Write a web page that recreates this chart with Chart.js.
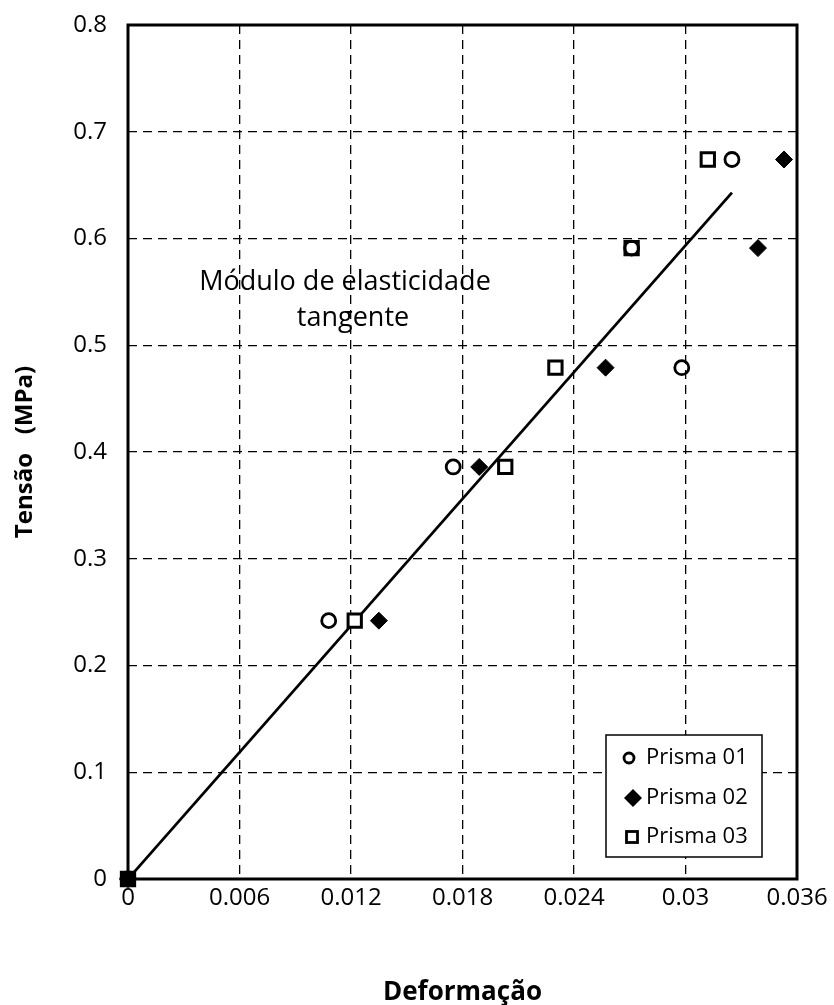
<!DOCTYPE html>
<html>
<head>
<meta charset="utf-8">
<script src="https://cdn.jsdelivr.net/npm/chart.js@4.4.0/dist/chart.umd.min.js"></script>
<style>
  html, body { margin: 0; padding: 0; background: #fff; }
  #wrap { width: 834px; height: 1005px; }
</style>
</head>
<body>
<div id="wrap"><canvas id="grafico" width="834" height="1005"></canvas></div>
<script>
// dados
const tensao = [0, 0.242, 0.386, 0.479, 0.591, 0.674]; // MPa
const deformP1 = [0, 0.0108, 0.0175, 0.0298, 0.0271, 0.0325];
const deformP2 = [0, 0.0135, 0.0189, 0.0257, 0.0339, 0.0353];
const deformP3 = [0, 0.0122, 0.0203, 0.0230, 0.0271, 0.0312];
const retaX = [0, 0.0325]; // reta do módulo tangente
const retaY = [0, 0.643];
const xTicks = [0, 0.006, 0.012, 0.018, 0.024, 0.03, 0.036];
const yTicks = [0, 0.1, 0.2, 0.3, 0.4, 0.5, 0.6, 0.7, 0.8];
const nomes = ['Prisma 01', 'Prisma 02', 'Prisma 03'];

const fonte = '"Open Sans"';

function pontos(xs, ys) {
    return xs.map((x, i) => ({ x: x, y: ys[i] }));
}

// moldura, texto do módulo e legenda desenhados à mão
const extras = {
    id: 'extras',
    beforeDatasetsDraw(chart) {
        const { ctx, chartArea: a } = chart;
        ctx.save();
        ctx.strokeStyle = '#000';
        ctx.lineWidth = 3;
        ctx.strokeRect(a.left, a.top, a.right - a.left, a.bottom - a.top);
        ctx.restore();
    },
    afterDraw(chart) {
        const ctx = chart.ctx;
        ctx.save();
        ctx.fillStyle = '#000';
        ctx.font = '27px ' + fonte;
        ctx.textAlign = 'center';
        ctx.textBaseline = 'alphabetic';
        ctx.fillText('Módulo de elasticidade', 345, 290);
        ctx.fillText('tangente', 353, 326);

        // legenda
        const bx = 606, by = 735, bw = 156, bh = 122;
        ctx.fillStyle = '#fff';
        ctx.fillRect(bx, by, bw, bh);
        ctx.strokeStyle = '#000';
        ctx.lineWidth = 1.5;
        ctx.strokeRect(bx, by, bw, bh);
        ctx.font = '22px ' + fonte;
        ctx.textAlign = 'left';
        ctx.textBaseline = 'middle';
        const linhas = [758, 798, 837];
        linhas.forEach((ly, i) => {
            ctx.lineWidth = 2.8;
            ctx.strokeStyle = '#000';
            ctx.fillStyle = '#000';
            if (i === 0) {
                ctx.beginPath();
                ctx.arc(629, ly, 5, 0, Math.PI * 2);
                ctx.stroke();
            } else if (i === 1) {
                const mx = 633;
                ctx.beginPath();
                ctx.moveTo(mx, ly - 9);
                ctx.lineTo(mx + 9, ly);
                ctx.lineTo(mx, ly + 9);
                ctx.lineTo(mx - 9, ly);
                ctx.closePath();
                ctx.fill();
            } else {
                ctx.strokeRect(632 - 5.5, ly - 5.5, 11, 11);
            }
            ctx.fillStyle = '#000';
            ctx.fillText(chart.data.datasets[i].label, 646, ly);
        });
        ctx.restore();
    }
};

const ctxGrafico = document.getElementById('grafico').getContext('2d');

new Chart(ctxGrafico, {
    type: 'scatter',
    data: {
        datasets: [
            {
                label: nomes[0],
                data: pontos(deformP1, tensao),
                pointStyle: 'circle',
                pointRadius: 7,
                pointBorderWidth: 2.8,
                borderColor: '#000',
                backgroundColor: 'rgba(255,255,255,0)',
                clip: false
            },
            {
                label: nomes[1],
                data: pontos(deformP2, tensao),
                pointStyle: 'rectRot',
                pointRadius: 8.5,
                pointBorderWidth: 1,
                borderColor: '#000',
                backgroundColor: '#000',
                clip: false
            },
            {
                label: nomes[2],
                data: pontos(deformP3, tensao),
                pointStyle: 'rect',
                pointRadius: 9.4,
                pointBorderWidth: 3,
                borderColor: '#000',
                backgroundColor: '#fff',
                clip: false
            },
            {
                label: 'Módulo tangente',
                data: pontos(retaX, retaY),
                showLine: true,
                borderColor: '#000',
                borderWidth: 2.8,
                pointRadius: 0
            }
        ]
    },
    options: {
        responsive: false,
        animation: false,
        layout: { padding: { top: 25, right: 37, left: 0, bottom: 0 } },
        plugins: {
            legend: { display: false },
            tooltip: { enabled: false }
        },
        scales: {
            x: {
                type: 'linear',
                min: 0,
                max: 0.036,
                afterBuildTicks: (s) => { s.ticks = xTicks.map(v => ({ value: v })); },
                afterFit: (s) => { s.height = 126; },
                ticks: {
                    color: '#000',
                    font: { family: fonte, size: 24 },
                    padding: 5,
                    callback: (v) => String(v)
                },
                grid: { color: '#000', lineWidth: 1.3, drawTicks: false },
                border: { display: false, dash: [9, 6] },
                title: {
                    display: true,
                    text: 'Deformação',
                    color: '#000',
                    font: { family: fonte, size: 26, weight: 'bold' },
                    padding: { top: 0, bottom: -3 }
                }
            },
            y: {
                type: 'linear',
                min: 0,
                max: 0.8,
                afterBuildTicks: (s) => { s.ticks = yTicks.map(v => ({ value: v })); },
                afterFit: (s) => { s.width = 128; s.paddingTop = 0; },
                ticks: {
                    color: '#000',
                    font: { family: fonte, size: 24 },
                    padding: 21,
                    callback: (v) => String(v)
                },
                grid: { color: '#000', lineWidth: 1.3, drawTicks: false },
                border: { display: false, dash: [9, 6] },
                title: {
                    display: true,
                    text: 'Tensão   (MPa)',
                    color: '#000',
                    font: { family: fonte, size: 24, weight: 'bold' },
                    padding: { top: 11, bottom: 0 }
                }
            }
        }
    },
    plugins: [extras]
});
</script>
</body>
</html>
